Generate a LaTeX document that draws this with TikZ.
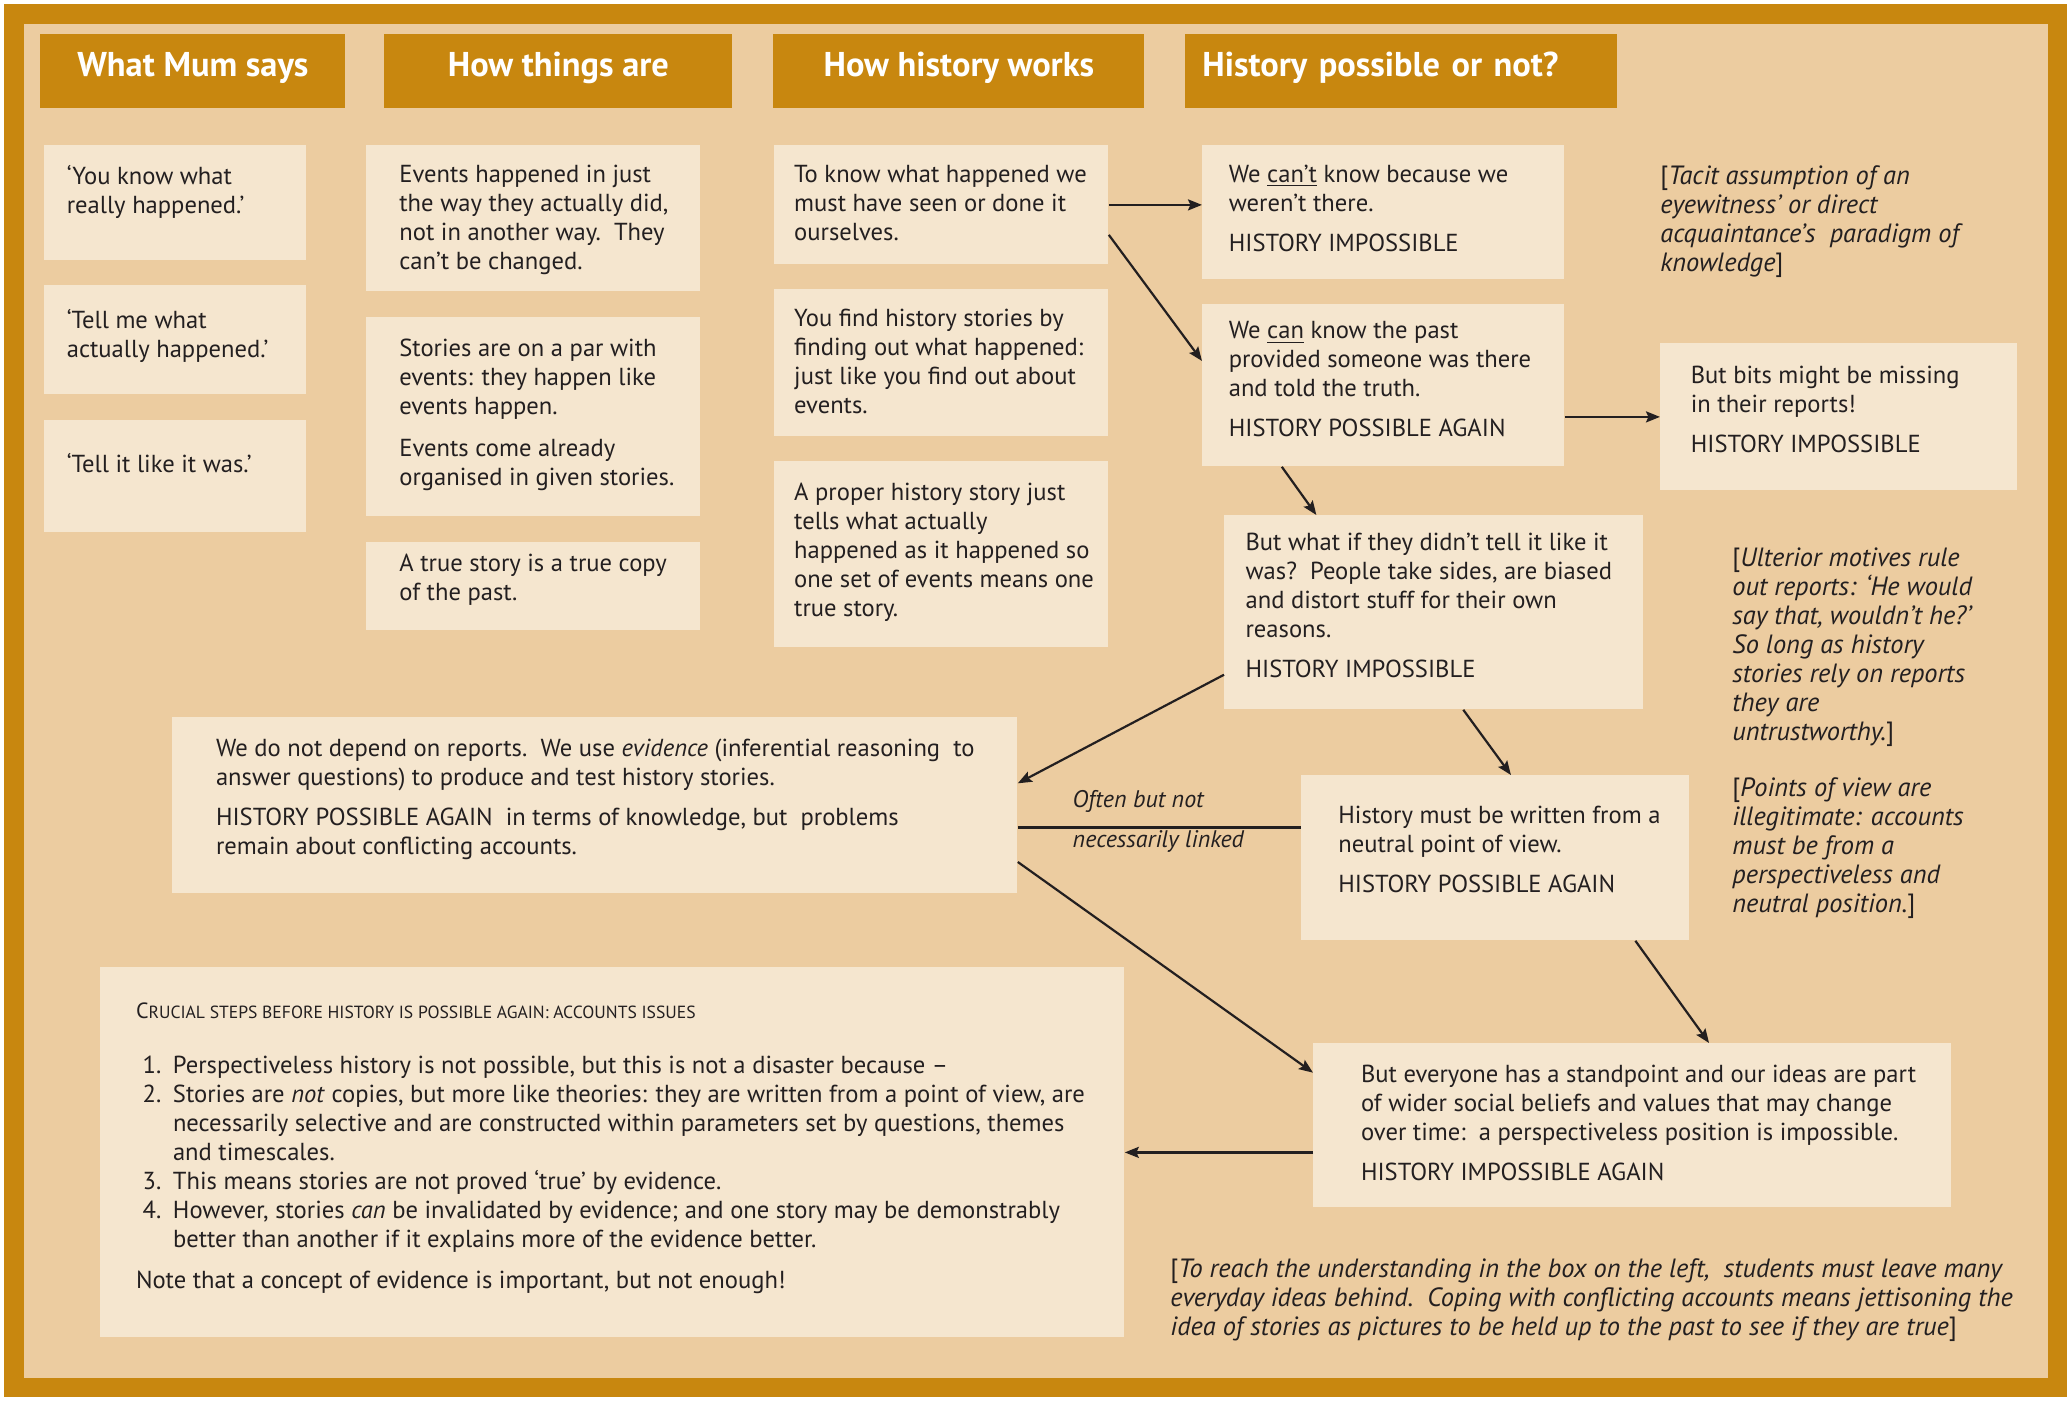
\documentclass[tikz,border=0pt]{standalone}
\usepackage{fontspec}
\setmainfont{PT Sans}
\usetikzlibrary{arrows.meta,calc,positioning}
\definecolor{frameorange}{HTML}{C8870F}
\definecolor{paneltan}{HTML}{ECCCA0}
\definecolor{cardfill}{HTML}{F5E6CF}
\definecolor{inkdark}{HTML}{231F20}
\begin{document}
\begin{tikzpicture}[x=0.5pt,y=-0.5pt,>={Stealth[length=7pt,width=5.5pt,inset=1.2pt]},
  card/.style={fill=cardfill,inner sep=0pt,anchor=north west},
  head/.style={fill=frameorange,text=white,font=\bfseries\fontsize{17.2}{20}\selectfont,
    inner sep=0pt,anchor=north west,minimum height=37pt,text height=12.4pt,text depth=7pt},
  txt/.style={inner sep=0pt,anchor=north west,align=left,text=inkdark,
    font=\fontsize{12.3}{14.5}\selectfont},
  note/.style={txt,font=\itshape\fontsize{13.2}{14.5}\selectfont},
  tag/.style={inner sep=0pt,anchor=base west,text=inkdark,font=\itshape\fontsize{12}{13}\selectfont},
  link/.style={->,draw=inkdark,line width=1.1pt}]

\useasboundingbox (0,0) rectangle (2071,1401);
\fill[white] (0,0) rectangle (2071,1401);
\fill[frameorange] (4,4) rectangle (2067,1397);
\fill[paneltan] (24,24) rectangle (2048,1378);

\node[head,minimum width=152.5pt] (mum) at (40,34) {What Mum says};
\node[head,minimum width=174pt] (things) at (384,34) {How things are};
\node[head,minimum width=185.5pt] (works) at (773,34) {How history works};
\node[head,text width=199pt,inner xsep=8.5pt,align=left] (possible) at (1185,34) {History possible or not?};

\node[card,minimum width=131pt,minimum height=57.5pt] (mumknow) at (44,145) {};
\node[card,minimum width=131pt,minimum height=54.5pt] (mumtell) at (44,285) {};
\node[card,minimum width=131pt,minimum height=56pt] (mumwas) at (44,420) {};
\node[txt] (mumknow-t) at ([xshift=11.2pt,yshift=-9.9pt]mumknow.north west) {‘You know what\\really happened.’};
\node[txt] (mumtell-t) at ([xshift=11.2pt,yshift=-11.9pt]mumtell.north west) {‘Tell me what\\actually happened.’};
\node[txt] (mumwas-t) at ([xshift=11.2pt,yshift=-16.5pt]mumwas.north west) {‘Tell it like it was.’};

\node[card,minimum width=167pt,minimum height=73pt] (events) at (366,145) {};
\node[card,minimum width=167pt,minimum height=99.5pt] (stories) at (366,317) {};
\node[card,minimum width=167pt,minimum height=44pt] (copy) at (366,542) {};
\node[txt] (events-t) at ([xshift=16.5pt,yshift=-9.9pt]events.north west)
  {Events happened in just\\the way they actually did,\\not in another way.\ \ They\\can’t be changed.};
\node[txt] (stories-t) at ([xshift=16.5pt,yshift=-10.6pt]stories.north west)
  {Stories are on a par with\\events: they happen like\\events happen.\\[6.5pt]Events come already\\organised in given stories.};
\node[txt] (copy-t) at ([xshift=16.5pt,yshift=-5.9pt]copy.north west)
  {A true story is a true copy\\of the past.};

\node[card,minimum width=167pt,minimum height=59.5pt] (know) at (774,145) {};
\node[card,minimum width=167pt,minimum height=73.5pt] (find) at (774,289) {};
\node[card,minimum width=167pt,minimum height=93pt] (proper) at (774,461) {};
\node[txt] (know-t) at ([xshift=9.9pt,yshift=-9.9pt]know.north west)
  {To know what happened we\\must have seen or done it\\ourselves.};
\node[txt] (find-t) at ([xshift=9.9pt,yshift=-9.9pt]find.north west)
  {You find history stories by\\finding out what happened:\\just like you find out about\\events.};
\node[txt] (proper-t) at ([xshift=9.9pt,yshift=-10.6pt]proper.north west)
  {A proper history story just\\tells what actually\\happened as it happened so\\one set of events means one\\true story.};

\node[card,minimum width=181pt,minimum height=67pt] (cant) at (1202,145) {};
\node[card,minimum width=181pt,minimum height=81pt] (can) at (1202,304) {};
\node[card,minimum width=178.5pt,minimum height=73.5pt] (bits) at (1660,343) {};
\node[card,minimum width=209.5pt,minimum height=97pt] (biased) at (1224,515) {};
\node[card,minimum width=422.5pt,minimum height=88pt] (evidence) at (172,717) {};
\node[card,minimum width=194pt,minimum height=82.5pt] (neutral) at (1301,775) {};
\node[card,minimum width=512pt,minimum height=185pt] (crucial) at (100,967) {};
\node[card,minimum width=319pt,minimum height=82pt] (standpoint) at (1313,1043) {};

\node[txt] (cant-t) at ([xshift=13.2pt,yshift=-9.9pt]cant.north west)
  {We \underline{can’t} know because we\\weren’t there.\\[5.5pt]HISTORY IMPOSSIBLE};
\node[txt] (can-t) at ([xshift=13.2pt,yshift=-8.6pt]can.north west)
  {We \underline{can} know the past\\provided someone was there\\and told the truth.\\[5.5pt]HISTORY POSSIBLE AGAIN};
\node[txt] (bits-t) at ([xshift=15.2pt,yshift=-11.2pt]bits.north west)
  {But bits might be missing\\in their reports!\\[5.5pt]HISTORY IMPOSSIBLE};
\node[txt] (biased-t) at ([xshift=10.6pt,yshift=-8.6pt]biased.north west)
  {But what if they didn’t tell it like it\\was?\ \ People take sides, are biased\\and distort stuff for their own\\reasons.\\[5.5pt]HISTORY IMPOSSIBLE};
\node[txt] (evidence-t) at ([xshift=21.8pt,yshift=-10.6pt]evidence.north west)
  {We do not depend on reports.\ \ We use \textit{evidence} (inferential reasoning\ \ to\\answer questions) to produce and test history stories.\\[5.5pt]HISTORY POSSIBLE AGAIN\ \ in terms of knowledge, but\ \ problems\\remain about conflicting accounts.};
\node[txt] (neutral-t) at ([xshift=18.5pt,yshift=-15.2pt]neutral.north west)
  {History must be written from a\\neutral point of view.\\[5.5pt]HISTORY POSSIBLE AGAIN};
\node[txt] (standpoint-t) at ([xshift=23.8pt,yshift=-10.6pt]standpoint.north west)
  {But everyone has a standpoint and our ideas are part\\of wider social beliefs and values that may change\\over time:\ \ a perspectiveless position is impossible.\\[5.5pt]HISTORY IMPOSSIBLE AGAIN};
\node[txt] (crucial-t) at ([xshift=17.8pt,yshift=-17.8pt]crucial.north west)
  {{\fontsize{11}{14.5}\selectfont C}{\fontsize{8.8}{14.5}\selectfont RUCIAL STEPS BEFORE HISTORY IS POSSIBLE AGAIN: ACCOUNTS ISSUES}\\[13pt]
   \makebox[18.5pt][l]{\hspace{3.3pt}1.}Perspectiveless history is not possible, but this is not a disaster because –\\
   \makebox[18.5pt][l]{\hspace{3.3pt}2.}Stories are \textit{not} copies, but more like theories: they are written from a point of view, are\\
   \hspace*{18.5pt}necessarily selective and are constructed within parameters set by questions, themes\\
   \hspace*{18.5pt}and timescales.\\
   \makebox[18.5pt][l]{\hspace{3.3pt}3.}This means stories are not proved ‘true’ by evidence.\\
   \makebox[18.5pt][l]{\hspace{3.3pt}4.}However, stories \textit{can} be invalidated by evidence; and one story may be demonstrably\\
   \hspace*{18.5pt}better than another if it explains more of the evidence better.\\[6pt]
   Note that a concept of evidence is important, but not enough!};

\node[note] (tacit) at (1660,165)
  {{\upshape[}Tacit assumption of an\\eyewitness’ or direct\\acquaintance’s\ \ paradigm of\\knowledge{\upshape]}};
\node[note] (ulterior) at (1732,547)
  {{\upshape[}Ulterior motives rule\\out reports: ‘He would\\say that, wouldn’t he?’\\So long as history\\stories rely on reports\\they are\\untrustworthy.{\upshape]}};
\node[note] (points) at (1732,777)
  {{\upshape[}Points of view are\\illegitimate: accounts\\must be from a\\perspectiveless and\\neutral position.{\upshape]}};
\node[note] (reach) at (1170,1258)
  {{\upshape[}To reach the understanding in the box on the left,\ \ students must leave many\\everyday ideas behind.\ \ Coping with conflicting accounts means jettisoning the\\idea of stories as pictures to be held up to the past to see if they are true{\upshape]}};

\draw[link] (know.east) -- (know.east -| cant.west);
\draw[link] ($(know.north east)!0.75!(know.south east)$) -- ($(can.north west)!0.35!(can.south west)$);
\draw[link] (bits.west -| can.east) -- (bits.west);
\draw[link] ($(can.south west)!0.22!(can.south east)$) -- ($(biased.north west)!0.22!(biased.north east)$);
\draw[link] ($(biased.north west)!0.82!(biased.south west)$) -- ($(evidence.north east)!0.375!(evidence.south east)$);
\draw[link] ($(biased.south west)!0.57!(biased.south east)$) -- ($(neutral.north west)!0.54!(neutral.north east)$);
\coordinate (evout) at ($(evidence.north east)!0.625!(evidence.south east)$);
\draw[draw=inkdark,line width=1.1pt] (evout) -- (evout -| neutral.west)
  node[tag,pos=0.19,yshift=10pt] (often) {Often but not}
  node[tag,pos=0.19,yshift=-10pt] (linked) {necessarily linked};
\draw[link] ($(evidence.north east)!0.82!(evidence.south east)$) -- ($(standpoint.north west)!0.18!(standpoint.south west)$);
\draw[link] ($(neutral.south west)!0.86!(neutral.south east)$) -- ($(standpoint.north west)!0.62!(standpoint.north east)$);
\draw[link] (crucial.east -| standpoint.west) -- (crucial.east);
\end{tikzpicture}
\end{document}
